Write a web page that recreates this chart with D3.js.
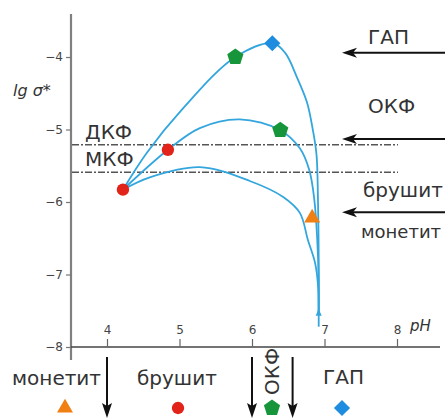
<!DOCTYPE html>
<html><head><meta charset="utf-8">
<script src="https://cdn.jsdelivr.net/npm/d3@7"></script>
<style>body{margin:0;background:#fff}svg{display:block}</style>
</head><body>
<script>
// ---- data ----
const xTicks = [4, 5, 6, 7, 8];
const yTicks = [-4, -5, -6, -7, -8];
const curveTop = [[4.22,-5.83],[4.55,-5.32],[5.03,-4.73],[5.77,-4.0],[6.28,-3.81],[6.455,-3.94],[6.62,-4.28],[6.76,-4.63],[6.84,-5.01],[6.89,-5.35],[6.91,-5.97],[6.92,-6.8],[6.92,-7.53]];
const curveMid = [[4.22,-5.83],[4.84,-5.28],[5.28,-4.98],[5.83,-4.86],[6.39,-5.01],[6.66,-5.26],[6.79,-5.56],[6.86,-5.97],[6.90,-6.52],[6.92,-7.08],[6.92,-7.53]];
const curveLow = [[4.22,-5.83],[4.59,-5.66],[5.28,-5.52],[5.97,-5.71],[6.43,-5.93],[6.66,-6.15],[6.77,-6.52],[6.87,-6.84],[6.91,-7.14],[6.92,-7.53]];
const curveEnd = [[6.92,-7.72],[6.92,-7.5]];
const refLines = [{name:"ДКФ", lg:-5.21},{name:"МКФ", lg:-5.59}];
const points = [
  {phase:"брушит", pH:4.22, lg:-5.83},
  {phase:"брушит", pH:4.84, lg:-5.28},
  {phase:"ОКФ", pH:5.77, lg:-4.0},
  {phase:"ОКФ", pH:6.39, lg:-5.01},
  {phase:"ГАП", pH:6.28, lg:-3.81},
  {phase:"монетит", pH:6.83, lg:-6.22}
];
const rightLevels = [{lg:-3.94, above:"ГАП"},{lg:-5.13, above:"ОКФ"},{lg:-6.14, above:"брушит", below:"монетит"}];
const phBounds = [4, 6, 6.56];
const legendPhases = ["монетит","брушит","ОКФ","ГАП"];

// ---- setup ----
const W = 445, H = 418;
const svg = d3.select("body").append("svg").attr("width", W).attr("height", H);
const x = d3.scaleLinear().domain([4, 8]).range([107, 397]);
const y = d3.scaleLinear().domain([-8, -4]).range([347, 57]);
const font = "'DejaVu Sans', sans-serif";
const fs = 20;
const txtCol = "#333";
const colors = {"монетит":"#f07f14","брушит":"#e2231a","ОКФ":"#17953a","ГАП":"#1f8ddf"};

function pentagon(r){
  const p = d3.path();
  for (let i = 0; i < 5; i++){
    const a = -Math.PI/2 + i*2*Math.PI/5;
    if (i === 0) p.moveTo(r*Math.cos(a), r*Math.sin(a)); else p.lineTo(r*Math.cos(a), r*Math.sin(a));
  }
  p.closePath();
  return p.toString();
}
function markerPath(phase){
  if (phase === "брушит") return d3.symbol(d3.symbolCircle, 120)();
  if (phase === "ОКФ") return pentagon(8.5);
  if (phase === "ГАП") return d3.symbol(d3.symbolSquare, 130)();
  return d3.symbol(d3.symbolTriangle, 110)();
}
function markerRot(phase){ return phase === "ГАП" ? 45 : 0; }
function label(xx, yy, t, size){
  return svg.append("text").attr("x", xx).attr("y", yy).attr("font-family", font)
    .attr("font-size", size || fs).attr("fill", txtCol).text(t);
}

// ---- axes ----
const yAxis = svg.append("g").attr("transform", "translate(71,0)")
  .call(d3.axisLeft(y).tickValues(yTicks).tickSize(5).tickSizeOuter(0).tickFormat(d3.format("d")));
yAxis.select(".domain").attr("d", "M0,14V360").attr("stroke", "#808080").attr("stroke-width", 2.2);
yAxis.selectAll(".tick line").attr("stroke", "#777").attr("stroke-width", 1.2);
yAxis.selectAll(".tick text").attr("font-family", font).attr("font-size", 12).attr("fill", "#444").attr("x", -8);

const xAxis = svg.append("g").attr("transform", "translate(0,347)")
  .call(d3.axisTop(x).tickValues(xTicks).tickSize(8).tickSizeOuter(0).tickFormat(d3.format("d")));
xAxis.select(".domain").attr("d", "M71,0H440").attr("stroke", "#444").attr("stroke-width", 1.6);
xAxis.selectAll(".tick line").attr("stroke", "#666").attr("stroke-width", 1.2);
xAxis.selectAll(".tick text").attr("font-family", font).attr("font-size", 12).attr("fill", "#444").attr("y", -13);

svg.append("text").attr("x", 13).attr("y", 96).attr("font-family", font).attr("font-size", 16)
  .attr("font-style", "italic").attr("fill", txtCol).text("lg σ*");
svg.append("text").attr("x", 410).attr("y", 331).attr("font-family", font).attr("font-size", 15)
  .attr("font-style", "italic").attr("fill", txtCol).text("pH");

// ---- reference dash-dot lines ----
refLines.forEach(r => {
  svg.append("line").attr("x1", 72).attr("x2", 398).attr("y1", y(r.lg)).attr("y2", y(r.lg))
    .attr("stroke", "#555").attr("stroke-width", 1.6).attr("stroke-dasharray", "7,2,2,2");
  label(85, y(r.lg) - 6, r.name);
});

// ---- curves ----
const line = d3.line().x(d => x(d[0])).y(d => y(d[1])).curve(d3.curveCatmullRom.alpha(0.5));
[curveTop, curveMid, curveLow, curveEnd].forEach(c => {
  svg.append("path").attr("d", line(c)).attr("fill", "none").attr("stroke", "#33a6de").attr("stroke-width", 1.8);
});
const tip = curveEnd[1];
svg.append("path").attr("transform", `translate(${x(tip[0])},${y(tip[1])})`)
  .attr("d", "M0,-2L3,5L-3,5Z").attr("fill", "#33a6de");

// ---- markers ----
svg.selectAll(".pt").data(points).enter().append("path")
  .attr("transform", d => `translate(${x(d.pH)},${y(d.lg)}) rotate(${markerRot(d.phase)})`)
  .attr("d", d => markerPath(d.phase)).attr("fill", d => colors[d.phase]);

// ---- right arrows ----
function leftArrow(x1, x2, yy){
  svg.append("line").attr("x1", x1 + 10).attr("x2", x2).attr("y1", yy).attr("y2", yy).attr("stroke", "#111").attr("stroke-width", 2);
  svg.append("path").attr("d", `M${x1},${yy}L${x1+15},${yy-5}L${x1+11},${yy}L${x1+15},${yy+5}Z`).attr("fill", "#111");
}
rightLevels.forEach(r => {
  const yy = y(r.lg);
  leftArrow(342, 446, yy);
  const dx = r.above === "брушит" ? 363 : 368;
  const dy = r.above === "ГАП" ? yy - 9 : (r.above === "ОКФ" ? yy - 26 : yy - 15);
  label(dx, dy, r.above);
  if (r.below) label(361, yy + 26, r.below, 18);
});

// ---- bottom arrows ----
phBounds.forEach(p => {
  const xx = x(p);
  svg.append("line").attr("x1", xx).attr("x2", xx).attr("y1", 357).attr("y2", 408).attr("stroke", "#111").attr("stroke-width", 2);
  svg.append("path").attr("d", `M${xx},418L${xx-5},403L${xx},406L${xx+5},403Z`).attr("fill", "#111");
});
const legendX = {"монетит":65, "брушит":178, "ОКФ":272, "ГАП":342};
label(12, 385, "монетит");
label(137, 385, "брушит");
label(323, 384, "ГАП");
svg.append("text").attr("transform", "translate(279,395) rotate(-90)").attr("font-family", font)
  .attr("font-size", fs).attr("fill", txtCol).text("ОКФ");
svg.selectAll(".lg").data(legendPhases).enter().append("path")
  .attr("transform", d => `translate(${legendX[d]},408) rotate(${markerRot(d)})`)
  .attr("d", d => markerPath(d)).attr("fill", d => colors[d]);
</script>
</body></html>
